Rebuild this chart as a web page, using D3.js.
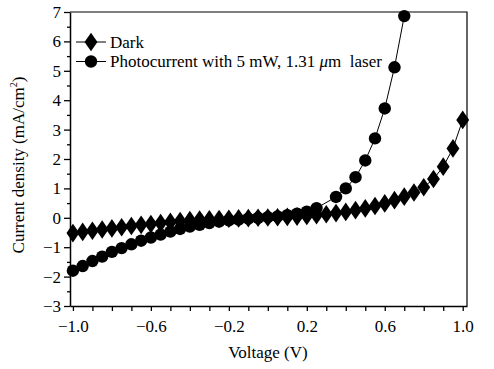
<!DOCTYPE html>
<html>
<head>
<meta charset="utf-8">
<script src="https://cdn.jsdelivr.net/npm/d3@7"></script>
<style>
  body { margin: 0; background: #fff; }
  svg { display: block; }
  svg text { font-family: "Liberation Serif", "Times New Roman", serif; }
</style>
</head>
<body>
<div id="chart"></div>
<script>
// dark current, diamonds
var darkV = [-1.0, -0.95, -0.9, -0.85, -0.8, -0.75, -0.7, -0.65, -0.6, -0.55, -0.5, -0.45, -0.4, -0.35, -0.3, -0.25, -0.2, -0.15, -0.1, -0.05,
             0, 0.05, 0.1, 0.15, 0.2, 0.25, 0.3, 0.35, 0.4, 0.45, 0.5, 0.55, 0.6, 0.65, 0.7, 0.75, 0.8, 0.85, 0.9, 0.95, 1.0];
var darkJ = [-0.52, -0.48, -0.44, -0.40, -0.36, -0.32, -0.28, -0.24, -0.21, -0.18, -0.14, -0.11, -0.08, -0.06, -0.05, -0.04, -0.03, -0.02, -0.01, 0.0,
             0.01, 0.02, 0.03, 0.04, 0.06, 0.09, 0.12, 0.16, 0.20, 0.26, 0.32, 0.40, 0.49, 0.60, 0.72, 0.86, 1.04, 1.32, 1.74, 2.36, 3.33];

// photocurrent, circles
var photoV = [-1.0, -0.95, -0.9, -0.85, -0.8, -0.75, -0.7, -0.65, -0.6, -0.55, -0.5, -0.45, -0.4, -0.35, -0.3, -0.25, -0.2, -0.15, -0.1, -0.05,
              0, 0.05, 0.1, 0.15, 0.2, 0.25, 0.35, 0.4, 0.45, 0.5, 0.55, 0.6, 0.65, 0.7];
var photoJ = [-1.80, -1.64, -1.47, -1.32, -1.16, -1.03, -0.90, -0.78, -0.67, -0.57, -0.47, -0.38, -0.30, -0.24, -0.18, -0.13, -0.09, -0.06, -0.03, 0.0,
              0.02, 0.05, 0.09, 0.14, 0.21, 0.33, 0.71, 1.0, 1.38, 1.95, 2.70, 3.72, 5.12, 6.86];

var xTickLabels = ["\u22121.0", "\u22120.6", "\u22120.2", "0.2", "0.6", "1.0"];
var yTickLabels = ["\u22123", "\u22122", "\u22121", "0", "1", "2", "3", "4", "5", "6", "7"];
var legendNames = ["Dark", "Photocurrent with 5 mW, 1.31 "];

var W = 494, H = 369;
var margin = {left: 70, top: 12, right: 27, bottom: 63};
var w = W - margin.left - margin.right;
var h = H - margin.top - margin.bottom;
var FS = 17;

var svg = d3.select('#chart').append('svg').attr('width', W).attr('height', H);
var g = svg.append('g').attr('transform', 'translate(' + margin.left + ',' + margin.top + ')');

var x = d3.scaleLinear().domain([-1.015, 1.022]).range([0, w]);
var y = d3.scaleLinear().domain([-3, 7]).range([h, 0]);

function parseLabel(s){ return +s.replace('\u2212', '-'); }

// x axis, ticks every 0.1, labels every 0.4
var xLabelled = xTickLabels.map(parseLabel);
var xAxis = g.append('g').attr('transform', 'translate(0,' + h + ')')
    .call(d3.axisBottom(x).tickValues(d3.range(-10, 11).map(function(i){ return i / 10; }))
        .tickSize(5).tickSizeOuter(0)
        .tickFormat(function(d){
            var k = xLabelled.findIndex(function(t){ return Math.abs(t - d) < 1e-9; });
            return k < 0 ? '' : xTickLabels[k];
        }));
xAxis.selectAll('text').attr('dy', '1.05em');

// y axis minor
g.append('g')
    .call(d3.axisLeft(y).tickValues(d3.range(-3, 7, 1).map(function(v){ return v + 0.5; }))
        .tickSize(3).tickSizeOuter(0).tickFormat(''))
    .select('.domain').remove();
var yAxis = g.append('g')
    .call(d3.axisLeft(y).tickValues(yTickLabels.map(parseLabel)).tickSize(6).tickSizeOuter(0)
        .tickFormat(function(d, i){ return yTickLabels[i]; }));
yAxis.selectAll('text').attr('x', -9);

svg.selectAll('.tick text').attr('font-size', FS).attr('font-family', 'Liberation Serif').attr('fill', '#000');
svg.selectAll('.tick line').attr('stroke', '#000').attr('stroke-width', 1.3);
svg.selectAll('.domain').attr('stroke', '#000').attr('stroke-width', 1.5);

// frame top/right
g.append('path')
    .attr('d', 'M0,0H' + w + 'V' + h)
    .attr('fill', 'none').attr('stroke', '#000').attr('stroke-width', 1.2);

var line = d3.line().x(function(d){ return x(d[0]); }).y(function(d){ return y(d[1]); });
var dark = d3.zip(darkV, darkJ);
var photo = d3.zip(photoV, photoJ);

var plot = g.append('g');

plot.append('path').datum(dark).attr('d', line)
    .attr('fill', 'none').attr('stroke', '#000').attr('stroke-width', 1);
plot.append('path').datum(photo).attr('d', line)
    .attr('fill', 'none').attr('stroke', '#000').attr('stroke-width', 1);

var diamond = d3.symbol().type(d3.symbolDiamond).size(100);

plot.selectAll('.dk').data(dark).enter().append('path')
    .attr('class', 'dk')
    .attr('transform', function(d){ return 'translate(' + x(d[0]) + ',' + y(d[1]) + ') scale(1.2,1)'; })
    .attr('d', diamond).attr('fill', '#000');

plot.selectAll('.ph').data(photo).enter().append('circle')
    .attr('class', 'ph')
    .attr('cx', function(d){ return x(d[0]); })
    .attr('cy', function(d){ return y(d[1]); })
    .attr('r', 6.2).attr('fill', '#000');

// legend
var leg = g.append('g').attr('transform', 'translate(6,30)');
legendNames.forEach(function(name, i){
    var row = leg.append('g').attr('transform', 'translate(0,' + (i * 19.5) + ')');
    row.append('line').attr('x1', 0).attr('x2', 30).attr('y1', 0).attr('y2', 0)
        .attr('stroke', '#000').attr('stroke-width', 1);
    if (i === 0) {
        row.append('path').attr('d', diamond).attr('transform', 'translate(15,0) scale(1.2,1)').attr('fill', '#000');
    } else {
        row.append('circle').attr('cx', 15).attr('cy', 0).attr('r', 6.2).attr('fill', '#000');
    }
    var t = row.append('text').attr('x', 34).attr('y', 5.5).attr('font-size', FS).attr('fill', '#000').text(name);
    if (i === 1) {
        t.append('tspan').attr('font-style', 'italic').text('\u03bc');
        t.append('tspan').text('m\u00a0 laser');
    }
});

// axis titles
svg.append('text')
    .attr('x', 268).attr('y', 358)
    .attr('text-anchor', 'middle').attr('font-size', FS).attr('fill', '#000')
    .text('Voltage (V)');

var yt = svg.append('text')
    .attr('transform', 'translate(24,' + (margin.top + h / 2 + 6) + ') rotate(-90)')
    .attr('text-anchor', 'middle').attr('font-size', FS).attr('fill', '#000');
yt.append('tspan').text('Current density (mA/cm');
yt.append('tspan').attr('font-size', 10).attr('dy', -7).text('2');
yt.append('tspan').attr('dy', 7).text(')');
</script>
</body>
</html>
